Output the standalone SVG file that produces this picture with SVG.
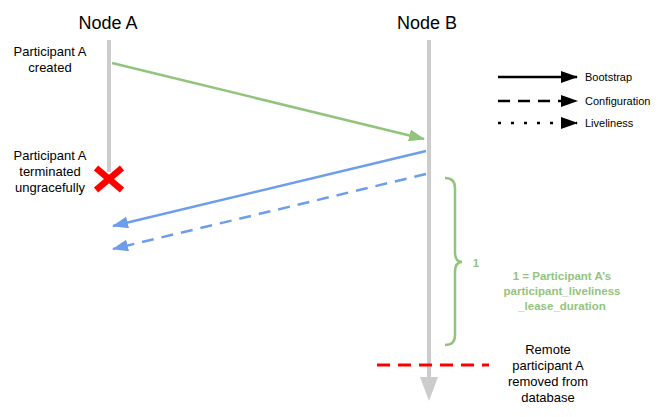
<svg xmlns="http://www.w3.org/2000/svg" width="661" height="417" viewBox="0 0 661 417">
<style>
text{font-family:"Liberation Sans",Arial,sans-serif;fill:#000}
.title{font-size:18px;text-anchor:middle}
.lbl{font-size:13px;text-anchor:middle}
.leg{font-size:11px}
.gt{font-size:11.5px;font-weight:bold;fill:#93c47d;text-anchor:middle}
.life{stroke:#cccccc;stroke-width:4;fill:none}
.green{stroke:#93c47d;stroke-width:2.5;fill:none}
.blue{stroke:#6d9eeb;stroke-width:2.5;fill:none}
</style>
<defs>
<marker id="ag" markerWidth="16" markerHeight="12" refX="15" refY="6" orient="auto" markerUnits="userSpaceOnUse" viewBox="0 0 16 12"><path d="M0,0L16,6L0,12z" fill="#93c47d"/></marker>
<marker id="ab" markerWidth="16" markerHeight="12" refX="15" refY="6" orient="auto" markerUnits="userSpaceOnUse" viewBox="0 0 16 12"><path d="M0,0L16,6L0,12z" fill="#6d9eeb"/></marker>
<marker id="ak" markerWidth="17" markerHeight="12" refX="16" refY="6" orient="auto" markerUnits="userSpaceOnUse" viewBox="0 0 17 12"><path d="M0,0L17,6L0,12z" fill="#000"/></marker>
</defs>
<g id="nodeA">
<text class="title" x="108" y="29">Node A</text>
<line class="life" x1="109" y1="40" x2="109" y2="172"/>
<text class="lbl" x="50" y="56">Participant A</text>
<text class="lbl" x="50" y="72">created</text>
<text class="lbl" x="50" y="160">Participant A</text>
<text class="lbl" x="50" y="176">terminated</text>
<text class="lbl" x="50" y="192">ungracefully</text>
<g id="cross" stroke="#ff0000" stroke-width="6.5">
<line x1="96" y1="168" x2="122" y2="190"/>
<line x1="122" y1="168" x2="96" y2="190"/>
</g>
</g>
<g id="nodeB">
<text class="title" x="427" y="29">Node B</text>
<line class="life" x1="429" y1="40" x2="429" y2="380"/>
<path d="M420,377L438,377L429,401z" fill="#cccccc"/>
</g>
<g id="connectors">
<line class="green" x1="112" y1="63" x2="424" y2="139" marker-end="url(#ag)"/>
<line class="blue" x1="426" y1="151" x2="113" y2="226" marker-end="url(#ab)"/>
<line class="blue" x1="426" y1="174" x2="113" y2="249" stroke-dasharray="12 8" marker-end="url(#ab)"/>
</g>
<g id="legend">
<line x1="498" y1="77" x2="577" y2="77" stroke="#000" stroke-width="2.5" marker-end="url(#ak)"/>
<line x1="498" y1="101" x2="577" y2="101" stroke="#000" stroke-width="2.5" stroke-dasharray="12 8" marker-end="url(#ak)"/>
<line x1="498" y1="123" x2="577" y2="123" stroke="#000" stroke-width="2.5" stroke-dasharray="3 10" marker-end="url(#ak)"/>
<text class="leg" x="585" y="81">Bootstrap</text>
<text class="leg" x="585" y="105">Configuration</text>
<text class="leg" x="585" y="127">Liveliness</text>
</g>
<g id="brace">
<path d="M445,178Q455,178 455,188L455,252Q455,262 462,262Q455,262 455,272L455,335Q455,345 445,345" fill="none" stroke="#93c47d" stroke-width="2.5"/>
<text class="gt" x="476" y="267">1</text>
<text class="gt" x="562" y="280">1 = Participant A’s</text>
<text class="gt" x="562" y="295">participant_liveliness</text>
<text class="gt" x="562" y="310">_lease_duration</text>
</g>
<g id="removal">
<line x1="377" y1="365" x2="489" y2="365" stroke="#ff0000" stroke-width="3" stroke-dasharray="13 8"/>
<text class="lbl" x="548" y="354">Remote</text>
<text class="lbl" x="548" y="370">participant A</text>
<text class="lbl" x="548" y="386">removed from</text>
<text class="lbl" x="548" y="402">database</text>
</g>
</svg>
